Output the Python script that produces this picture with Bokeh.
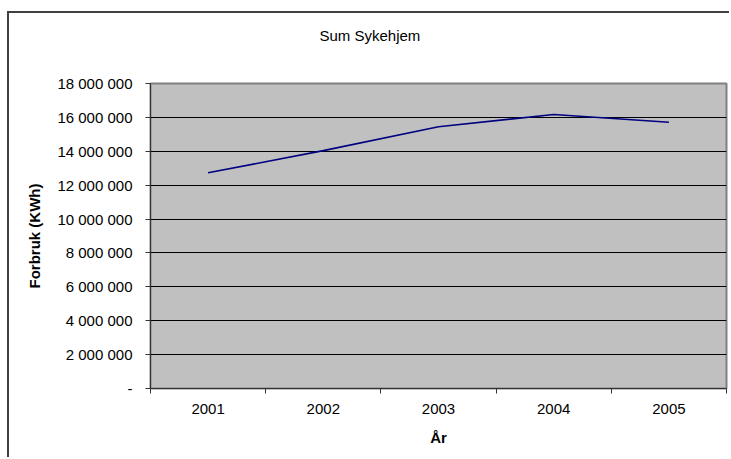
from bokeh.plotting import figure
from bokeh.models import FixedTicker, Range1d, ColumnDataSource, LinearAxis
from bokeh.embed import file_html
from bokeh.resources import INLINE

years = ["2001", "2002", "2003", "2004", "2005"]
consumption = [12730000, 14040000, 15450000, 16170000, 15710000]
y_ticks = [0, 2000000, 4000000, 6000000, 8000000, 10000000,
           12000000, 14000000, 16000000, 18000000]
chart_title = "Sum Sykehjem"

FONT = "Liberation Sans"
FS = "15px"

x_pos = [i + 0.5 for i in range(len(years))]
src = ColumnDataSource(dict(x=x_pos, y=consumption))

p = figure(width=722, height=446, output_backend="svg", toolbar_location=None,
           x_range=Range1d(0, len(years)), y_range=Range1d(0, y_ticks[-1]),
           min_border_left=141, min_border_right=5, min_border_top=70,
           min_border_bottom=71, title=chart_title)
p.styles = {"border-left": "2px solid #404040", "border-top": "2px solid #404040",
            "margin-top": "11px", "margin-left": "7px"}

xa = p.below[0]
ya = p.left[0]

p.background_fill_color = "#C0C0C0"
p.border_fill_color = "white"
p.outline_line_color = "#808080"
p.outline_line_width = 2

p.title.text_font = FONT
p.title.text_font_size = "15px"
p.title.text_font_style = "normal"
p.title.text_color = "black"
p.title.align = "left"
p.title.offset = 169
p.title.standoff = 10

# invisible spacer axis above the frame, pushes the title upward
spacer = LinearAxis(ticker=FixedTicker(ticks=[0.0]), axis_line_color=None,
                    major_tick_line_color=None, minor_tick_line_color=None,
                    major_tick_out=35, major_tick_in=0, minor_tick_out=0,
                    major_label_standoff=0, major_label_text_color=None,
                    major_label_text_font_size="1px",
                    major_label_overrides={0.0: ""})
p.add_layout(spacer, "above")

p.line("x", "y", source=src, line_color="#000080", line_width=1.6)

# x axis
xa.ticker = FixedTicker(ticks=x_pos, minor_ticks=list(range(len(years) + 1)))
xa.major_label_overrides = {x: y for x, y in zip(x_pos, years)}
xa.major_tick_line_color = None
xa.major_tick_out = 0
xa.major_tick_in = 0
xa.minor_tick_line_color = "#333333"
xa.minor_tick_out = 5
xa.minor_tick_in = 0
xa.axis_line_color = "#333333"
xa.major_label_standoff = 10
xa.axis_label = "År"
xa.axis_label_standoff = 12

# y axis
ya.ticker = FixedTicker(ticks=y_ticks)
ya.major_label_overrides = {t: ("-" if t == 0 else f"{t:,}".replace(",", " ")) for t in y_ticks}
ya.minor_tick_line_color = None
ya.major_tick_line_color = "#333333"
ya.major_tick_out = 5
ya.major_tick_in = 0
ya.axis_line_color = "#333333"
ya.major_label_standoff = 13
ya.axis_label = "Forbruk (KWh)"
ya.axis_label_standoff = 11

for ax in (xa, ya):
    ax.major_label_text_font = FONT
    ax.major_label_text_font_size = FS
    ax.major_label_text_color = "black"
    ax.axis_label_text_font = FONT
    ax.axis_label_text_font_size = FS
    ax.axis_label_text_font_style = "bold"
    ax.axis_label_text_color = "black"

p.xgrid[0].grid_line_color = None
p.ygrid[0].ticker = FixedTicker(ticks=y_ticks)
p.ygrid[0].grid_line_color = "black"
p.ygrid[0].grid_line_width = 1
p.ygrid[0].grid_line_alpha = 1.0

open("out.html", "w").write(file_html(p, INLINE))
